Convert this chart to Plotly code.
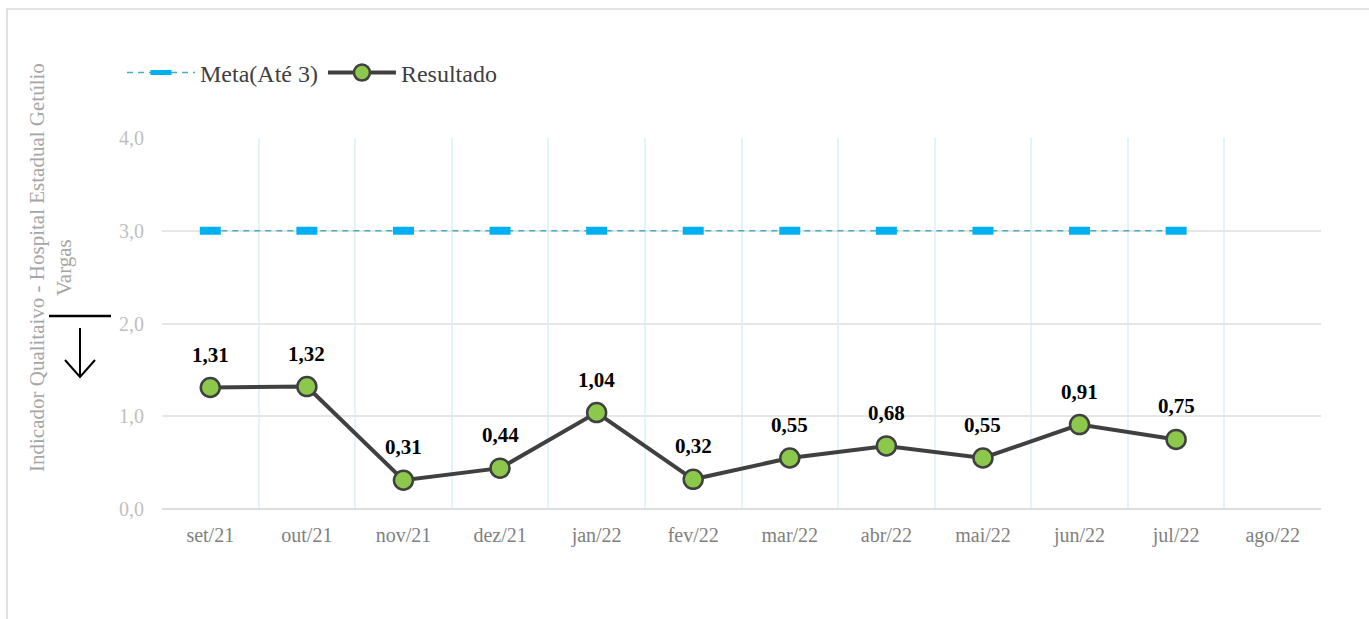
import plotly.graph_objects as go

meses = ["set/21", "out/21", "nov/21", "dez/21", "jan/22", "fev/22",
         "mar/22", "abr/22", "mai/22", "jun/22", "jul/22", "ago/22"]
meta = [3, 3, 3, 3, 3, 3, 3, 3, 3, 3, 3]
resultado = [1.31, 1.32, 0.31, 0.44, 1.04, 0.32, 0.55, 0.68, 0.55, 0.91, 0.75]

x_idx = list(range(len(meses)))
rotulos = [f"{v:.2f}".replace(".", ",") for v in resultado]

W, H = 1369, 619
ML, MR, MT, MB = 162, 48, 138, 110
PW, PH = W - ML - MR, H - MT - MB


def px(x):
    return (x - ML) / PW


def py(y):
    return (H - MB - y) / PH


serif = "Liberation Serif, Times New Roman, serif"

fig = go.Figure()

fig.add_trace(go.Scatter(
    x=x_idx[:len(meta)], y=meta, name="Meta(Até 3)", mode="lines+markers",
    line=dict(color="#4BACC6", width=1.5, dash="6px,5px"),
    marker=dict(symbol="line-ew", size=15,
                line=dict(color="#00B0F0", width=8)),
))

fig.add_trace(go.Scatter(
    x=x_idx[:len(resultado)], y=resultado, name="Resultado",
    mode="lines+markers",
    line=dict(color="#404040", width=4),
    marker=dict(symbol="circle", size=19, color="#8CC84B",
                line=dict(color="#404040", width=2.5)),
))

# Value labels above each point
for xi, v, t in zip(x_idx, resultado, rotulos):
    fig.add_annotation(x=xi, y=v, text=f"<b>{t}</b>", showarrow=False,
                       yshift=33, xanchor="center", yanchor="middle",
                       font=dict(family=serif, size=21, color="#000000"))

fig.update_layout(
    width=W, height=H,
    margin=dict(l=ML, r=MR, t=MT, b=MB),
    paper_bgcolor="white", plot_bgcolor="white",
    font=dict(family=serif),
    showlegend=True,
    legend=dict(orientation="h", x=px(122), y=py(73), yanchor="middle",
                xanchor="left", itemwidth=68,
                font=dict(family=serif, size=24, color="#404040"),
                bgcolor="rgba(0,0,0,0)", tracegroupgap=0),
    xaxis=dict(
        range=[-0.5, 11.5], tickmode="array", tickvals=x_idx, ticktext=meses,
        showgrid=False, zeroline=False, showline=False, ticks="",
        ticklabelstandoff=12,
        tickfont=dict(family=serif, size=20, color="#7F7F7F"),
        minor=dict(tick0=-0.5, dtick=1, showgrid=True, gridcolor="#E2F4FB",
                   gridwidth=1.5, ticks=""),
    ),
    yaxis=dict(
        range=[0, 4], tickvals=[0, 1, 2, 3, 4],
        ticktext=["0,0", "1,0", "2,0", "3,0", "4,0"],
        showgrid=True, gridcolor="#E6E6E6", gridwidth=1.5,
        zeroline=True, zerolinecolor="#DDDDDD", zerolinewidth=2,
        showline=False, ticks="", ticklen=0, ticklabelstandoff=17,
        tickfont=dict(family=serif, size=20, color="#BFBFBF"),
    ),
)

# Vertical axis title
fig.add_annotation(
    xref="paper", yref="paper", x=px(50), y=py(268),
    xanchor="center", yanchor="middle",
    text="Indicador Qualitaivo - Hospital Estadual Getúlio<br>Vargas",
    textangle=-90, showarrow=False,
    font=dict(family=serif, size=21, color="#A6A6A6"),
)

# Outer frame
fig.add_shape(type="path", xref="paper", yref="paper",
              path=f"M {px(7)},{py(625)} L {px(7)},{py(9)} L {px(1375)},{py(9)}",
              line=dict(color="#D9D9D9", width=1.5))

# "Lower is better" arrow
fig.add_shape(type="line", xref="paper", yref="paper",
              x0=px(49), x1=px(111), y0=py(316), y1=py(316),
              line=dict(color="#000000", width=2.5))
fig.add_shape(type="line", xref="paper", yref="paper",
              x0=px(80), x1=px(80), y0=py(328), y1=py(377),
              line=dict(color="#000000", width=2))
fig.add_shape(type="path", xref="paper", yref="paper",
              path=f"M {px(65)},{py(360)} L {px(80)},{py(377)} L {px(95)},{py(360)}",
              line=dict(color="#000000", width=2))

fig.write_html("out.html")
